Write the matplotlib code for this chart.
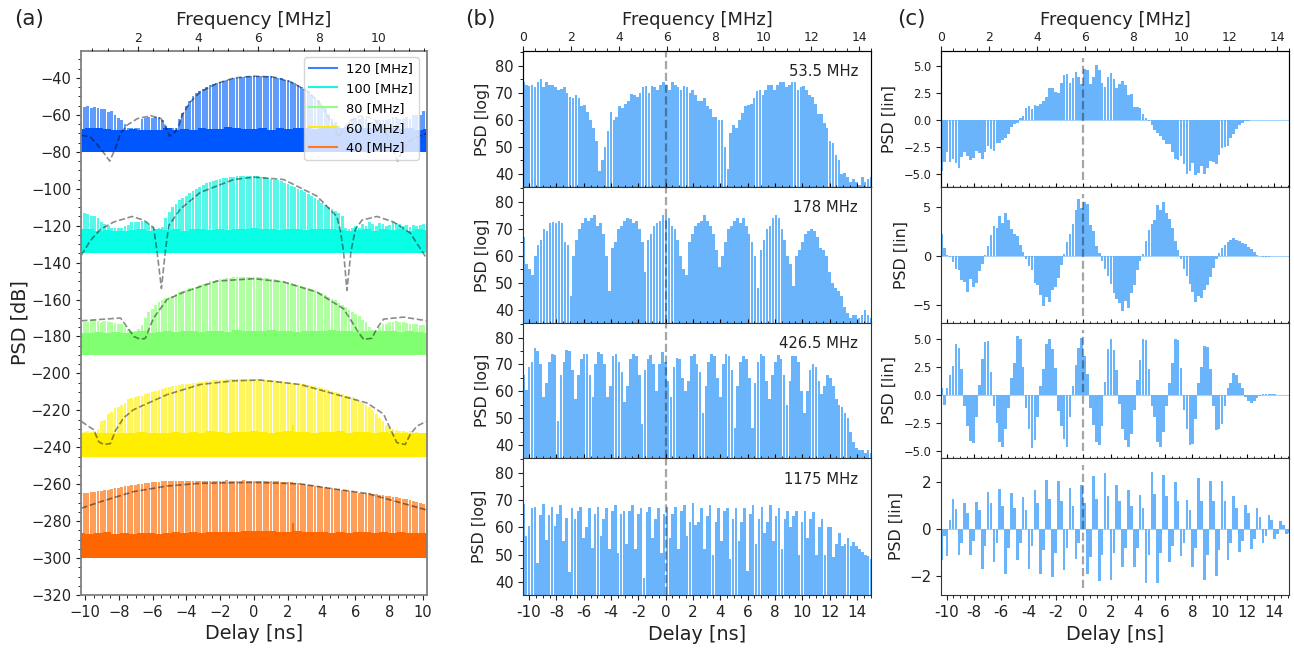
import matplotlib
matplotlib.use("Agg")
import matplotlib.pyplot as plt
from matplotlib.ticker import MultipleLocator
import numpy as np

# (a) envelope tops, one value per comb bar
top_120 = [-55,-55.5,-55,-56,-55.5,-56.5,-57,-57,-58.5,-58,-60,-61.5,-63,-65,-67,-67,-67,-67,-62,-61.5,-61,-61.5,-61,-61,-62.5,-66,-67,-67,-67,-62,-59,-55,-52.5,-50,-48,-47,-46,-45,-44,-43.5,-43,-42,-41.5,-41,-40.5,-40,-40,-39.5,-39.5,-39,-39,-39,-39,-39,-39,-39,-39,-39.5,-40,-40,-41,-41,-42,-43,-44,-45,-46,-47,-49,-50.5,-52,-54.5,-56.5,-59.5,-62,-64,-66,-67,-66.5,-64,-62,-61.5,-62,-61,-62,-64,-64,-63,-62.5,-63,-63,-62,-61,-61,-62,-62,-61,-62,-60,-60,-60,-58,-58]
top_100 = [-112,-113,-113.5,-115,-115,-116,-118,-119,-120,-121,-121,-121.5,-121,-120,-119.5,-118,-118,-118,-117.5,-118,-119,-120.5,-122,-121.5,-120.5,-116,-112.5,-110,-108,-106,-105,-104,-102.5,-101,-100,-99,-98,-97,-96.5,-96,-95,-94.5,-94,-94,-93.5,-93.5,-93,-93,-93,-93,-93,-93,-93,-93.5,-93.5,-94,-94.5,-95,-95,-96,-97,-97.5,-98.5,-99,-100,-100.5,-102,-103,-104,-105,-106,-107.5,-109,-110,-111,-112,-113,-115,-121,-122,-121,-120,-121,-119,-120,-118,-119,-120,-118.5,-119,-120,-119.5,-118,-118.5,-119,-120,-119.5,-120.5,-119.5,-120,-119.5,-119,-118.5]
top_80 = [-172,-172,-172,-171,-171,-171.5,-172,-171.5,-172,-172,-172.5,-173,-173,-174.5,-176,-177,-177,-176,-174,-170,-167,-165,-163,-161.5,-160,-159,-158.5,-158,-157,-156,-155.5,-155,-154,-153.5,-153,-152,-151.5,-151,-150,-150,-149.5,-149,-149,-148.5,-148.5,-148,-148,-148,-148,-148,-148,-148,-148,-148,-148.5,-148.5,-149,-149,-149.5,-150,-150,-150.5,-151,-151.5,-152,-152.5,-153,-154,-154.5,-155,-156,-156.5,-157.5,-158.5,-159.5,-160.5,-162,-163,-164,-165.5,-167,-168,-169,-171,-172,-175,-176.5,-177,-175,-173,-173,-172,-172,-171.5,-172,-172,-172.5,-173,-173,-173.5,-174,-174,-174]
top_60 = [-231,-231.5,-231,-231.5,-231,-230,-226,-225,-222,-221,-219,-218,-217,-216,-214,-213.5,-213,-212.5,-212,-211,-210.5,-210,-209.5,-209,-208.5,-208,-207.5,-207,-207,-206.5,-206,-205.5,-205.5,-205,-205,-204.5,-204.5,-204,-204,-203.5,-203.5,-203.5,-203.5,-203,-203,-203,-203,-203,-203,-203,-203,-203,-203,-203,-203.5,-203.5,-203.5,-203.5,-204,-204,-204.5,-204.5,-205,-205,-205.5,-205.5,-206,-206.5,-207,-207,-207.5,-208,-208.5,-209,-209.5,-210,-210.5,-211,-212,-212.5,-213,-214,-215,-216,-217,-218,-220,-222,-224,-226,-228,-229,-230,-230.5,-231,-231,-231.5,-231,-232,-231.5,-232,-232,-232]
top_40 = [-265,-264.5,-265,-264,-264,-263.5,-263.5,-263,-263,-262.5,-262,-262,-261.5,-261,-261,-260.5,-260.5,-260,-260,-259.5,-259.5,-259,-259,-259,-258.5,-258.5,-258.5,-258.5,-258,-258.5,-258,-258,-258.5,-258,-258,-258,-258,-258,-258.5,-258,-258,-258,-258,-257.5,-258,-258,-258,-258,-257.5,-258,-258,-258,-258,-258,-258.5,-258,-258.5,-258.5,-258.5,-259,-259,-259,-259,-259.5,-259.5,-260,-260,-260.5,-260.5,-261,-261,-261.5,-261.5,-262,-262,-262.5,-262.5,-263,-263,-263.5,-263.5,-264,-264.5,-264.5,-265,-265,-265.5,-265.5,-266,-266,-266.5,-266.5,-267,-267,-267.5,-268,-268,-268.5,-269,-269.5,-270,-270.5,-271]

# (a) noise floor
floor_120 = [-67.5,-67,-67,-67.5,-68,-68,-67.5,-68,-68,-68,-67,-68,-67.5,-68,-67,-67.5,-67.5,-66.5,-67,-67.5,-67.5,-67,-68,-67,-67.5,-67,-67,-67.5,-67,-66,-67,-68,-67.5,-67,-67,-67.5,-67,-67.5,-67,-68,-67.5]
floor_100 = [-122,-122,-123,-122.5,-123,-123,-122.5,-122,-123,-122,-122.5,-122,-123,-122,-122,-122.5,-122,-122.5,-122,-122,-121.5,-122,-122,-122.5,-122,-122,-122.5,-122,-122,-122,-122.5,-123,-122.5,-122,-123,-122,-122.5,-122,-123,-122,-122.5]
floor_80 = [-178,-178,-177.5,-178,-177.5,-178,-177.5,-177,-178,-177.5,-177,-177.5,-177,-177,-177.5,-177,-177,-177.5,-176.5,-177,-177,-177,-176.5,-177,-177,-177.5,-177,-177,-177,-176.5,-177,-177,-177.5,-177,-177,-177,-177,-177.5,-177,-177.5,-178]
floor_60 = [-232,-232.5,-232,-232.5,-232,-232,-232,-231.5,-232,-232,-232,-231.5,-232,-231.5,-232,-231,-231.5,-232,-231.5,-231.5,-231,-231.5,-232,-231.5,-231,-231.5,-231.5,-232,-231.5,-231.5,-231,-232,-231.5,-231.5,-232,-231.5,-232,-232,-232,-232,-232]
floor_40 = [-286.5,-287,-286.5,-286,-287,-286.5,-287,-286.5,-286.5,-287,-286.5,-286,-286.5,-286,-286.5,-286,-286,-286,-286,-285.5,-285.5,-285.5,-285.5,-286,-286,-285.5,-286,-286,-286,-286.5,-286,-286.5,-286,-286,-286.5,-286,-286.5,-286,-286.5,-286.5,-286.5]
spike_delay = 2.3
spike_60 = -228
spike_40 = -281

# (a) dashed model curves
model_120_x = [-10.22,-9.68,-9.29,-8.9,-8.54,-8.2,-7.9,-7.5,-6.9,-6.1,-5.5,-5.25,-5.0,-4.65,-4.45,-4.25,-3.77,-3.18,-2.2,-1.2,0,1.16,2.15,3.14,3.93,4.7,5.0,5.3,5.7,6.3,7.08,7.67,8.07,8.5,8.86,9.35,10.24]
model_120_y = [-71,-72,-76,-80.5,-85,-78,-70,-65.5,-62,-60.5,-62,-66,-71.5,-69,-66,-60,-53,-47.5,-43,-40,-39,-39.5,-42,-47,-54,-66,-72,-68,-63,-60.5,-62,-68,-75,-85,-78,-73,-70]
model_100_x = [-10.22,-9.68,-9.09,-8.3,-7.22,-6.53,-5.94,-5.74,-5.48,-5.25,-5.05,-4.36,-3.18,-1.2,0,1.76,3.73,4.9,5.1,5.3,5.5,5.74,6,6.39,7.28,8.26,9.25,10.24]
model_100_y = [-136,-128,-122,-118,-115,-117,-121,-134,-154,-134,-120,-111,-102,-95,-93.7,-95,-104,-115,-122,-134,-155,-134,-122,-117,-115,-118,-124,-138]
model_80_x = [-10.22,-7.9,-7.42,-7.12,-6.73,-6.43,-6.13,-5.94,-5.15,-4.16,-2.19,0,1.76,3.73,5.3,6,6.19,6.49,6.98,7.28,7.67,8.86,10.24]
model_80_y = [-171.5,-170,-176,-180,-181.5,-181,-174,-170,-160,-156,-150,-148.7,-150.5,-156,-165,-175,-178,-181.5,-181,-175.5,-170.6,-169.5,-171.5]
model_60_x = [-10.22,-9.49,-9.19,-8.9,-8.5,-8.2,-7.71,-7.12,-5.15,-3.18,-1.2,0.37,2.74,4.71,6.69,7.67,8.17,8.46,8.95,9.25,9.65,10.2]
model_60_y = [-226,-230.5,-237,-238.5,-238,-231,-224,-219.6,-211.5,-206,-204,-203.6,-206,-211,-216,-222,-232,-237.5,-238.5,-233,-228.5,-226]
model_40_x = [-10.22,-9.09,-7.12,-5.15,-3.18,0,2.74,4.71,6.69,8.66,10.24]
model_40_y = [-273,-269.5,-264,-261,-259.5,-259,-259.8,-262.5,-265,-270,-274]

legend_labels = ["120 [MHz]", "100 [MHz]", "80 [MHz]", "60 [MHz]", "40 [MHz]"]

# (b) log PSD
log_535 = [74,73,72.5,73,72,74,75,72,74,73,73,72,71,71.5,72,70,68.5,68,69,68,65,65.5,63,60,57,52,41,45,50,56,63,60,61,65,64.5,66,67,69.5,69,68.5,70,72,72.5,70,72.5,72,71,73,74,73,71,74,73,72,71,72.5,72,70,71,69,67,67,68,65,64,61,61,60,60,50,42,55,58,57,60,62.5,65,65.5,66,68,70.5,71,69,71,73,73,71,73,74,74,72,73,74,74,71,72,72.5,71,69,68.5,66,62,62,59,57,52,51.5,47,45,40,40.5,39,37,38,37,36,39,37,38,39]
log_178 = [67,57,55,53,60,64,66,70,69,72,72.5,72,73,72,65,64,45,60,66,70,72,74,73,74,75,71,72,68,60,47,63,65,70,71,73,74,73.5,72,73,70,65,54,66,68,71,72,73,75,74.5,74,71,70,66,60,55,53,65,68,71,72,73,75,73,71,68,62,56,60,65,70,71,73,74,72,74,71,68,65,60,48,62,66,70,71,74,75,74,70,66,60,57,49,60,62,65,68,69,70,69,67,63,62,60,54,50,48,47,45,41,39,37,38,38,37,38,40,38,37]
log_4265 = [66,60.5,69,71,76,75,70,58,63,71,74,73.5,49,66,71,75.5,75,68,57,66,72,74,74,66,58,70,74.5,74,70,58,62,73,74,71,67,56,62,72,74,73,66,48,68,72,73.5,70,60,70,74.5,71,64,58,69,72.5,72,65,60,64,73,74,70,67,52,62,71,74,73,65,58,70,74,73,68,46.5,62,71,73,72,65,46.5,63,71,74,73,64,57,66,71,73.5,72,66,55,64,73,73,71,60,52,60,68,70,69,64,59,62,66,65,62,57,55,54,52,50,45,41,39,38,38,37,38,37]
log_1175 = [68.5,57,60.5,67,67.5,47,64.5,68.5,55.5,64.5,67.5,60.5,65,68,55,63.5,43.5,67,63,66,67.5,56,60,67,52.5,65,67.5,57,63,67,52,66,68,50.5,65,66,54,66,68,52,65,67,41.5,65.5,67.5,56,63,67,50.5,65,67.5,56,65,67.5,52,66,68,57,62,69,61,62,67,52,64,68,50,62,67,55,66,67,48.5,63,67,55,62,67,44,65,68,54,63,67.5,58,62,68,55,64,67,52,63,66,60,64,66,50,62,66,56,63,65.5,50,60,63,50,60,60,49,54,58,53,54,56,53,54.5,53,52,51,50,49.5,48.5]

# (c) linear PSD
lin_535 = [-4.7,-3.9,-3.0,-3.9,-3.6,-4.0,-4.4,-3.4,-3.0,-3.3,-3.7,-3.5,-2.9,-3.1,-3.6,-3.0,-2.4,-2.7,-2.9,-2.1,-2.1,-1.9,-1.7,-1.3,-.7,-.4,-.25,.15,.4,1.1,1.3,1.0,1.4,1.3,1.5,1.7,2.1,2.9,2.9,2.6,2.5,3.4,4.1,4.2,3.4,3.9,4.4,4.0,3.3,4.7,4.6,3.3,4.0,5.1,4.6,3.4,3.0,4.0,4.3,3.8,2.9,3.3,3.6,3.2,2.3,2.4,1.2,1.2,1.1,.5,.15,-.1,-.5,-.9,-1.2,-1.5,-1.9,-2.2,-2.2,-3.0,-3.6,-3.7,-3.3,-4.1,-5.0,-4.7,-4.0,-5.1,-4.9,-4.3,-5.0,-4.4,-3.8,-3.9,-4.1,-3.2,-2.6,-2.5,-2.4,-1.7,-1.3,-.8,-.5,-.3,-.15,-.1,-.05,-.03,-.03,0,0,-.02,-.02,0,-.05,-.03,-.02,-.02,-.03,-.05]
lin_178 = [2.2,.8,.1,-.1,-.6,-1.3,-1.4,-2.5,-2.7,-3.7,-2.3,-3.2,-2.8,-1.5,-.8,.1,1.0,2.1,3.1,2.9,4.1,3.4,4.4,3.7,2.8,2.2,2.0,1.1,.4,-.3,-1.0,-1.4,-2.8,-3.0,-4.0,-5.1,-4.2,-4.7,-3.5,-3.2,-2.2,-.9,.2,1.4,2.2,3.3,4.7,5.8,4.9,5.5,5.3,3.2,2.5,1.0,.3,-.5,-1.3,-2.0,-2.9,-3.8,-4.4,-4.8,-5.6,-4.6,-5.3,-3.8,-3.0,-1.4,-.5,.2,1.5,2.7,3.3,3.7,5.2,4.7,5.5,4.4,3.8,2.9,1.5,.6,-.3,-1.3,-2.0,-2.9,-3.7,-4.7,-4.1,-4.3,-3.5,-3.0,-2.1,-1.2,-.3,.3,.8,1.1,1.4,1.6,1.8,1.6,1.5,1.3,1.2,.9,.7,.4,.15,-.05,-.1,-.08,-.1,-.05,-.05,-.03,-.05,-.02,-.03,-.02]
lin_4265 = [.6,-.9,.6,1.8,2.6,4.6,4.2,2.3,-1.0,-2.8,-4.1,-4.3,-2.0,.9,3.2,4.7,4.8,2.1,-1.0,-2.5,-4.2,-4.6,-3.0,-1.2,1.5,2.9,5.3,5.0,2.5,-1.2,-3.0,-4.7,-4.0,-2.0,.8,2.3,4.6,5.0,4.1,2.4,-1.4,-2.8,-3.9,-4.6,-2.0,.8,2.7,4.2,5.1,3.5,1.9,-1.2,-2.7,-4.2,-4.5,-2.8,1.2,4.1,5.0,4.0,2.2,-.8,-3.0,-4.0,-4.6,-3.5,-1.3,1.3,3.1,5.0,4.9,2.3,-1.0,-2.0,-4.2,-4.6,-3.3,-1.0,1.1,2.9,5.0,4.9,2.4,-1.3,-3.0,-4.5,-4.4,-2.1,1.1,2.5,4.4,4.3,2.3,-1.0,-3.1,-3.0,-2.6,-1.0,.6,1.1,2.0,1.8,1.1,.6,-.2,-.5,-.7,-.5,-.3,-.05,.05,.1,.1,.08,.05,.03,.02,.02,.02,.02]
lin_1175 = [-1.3,-.3,-1.15,.4,1.3,.85,-1.1,-.6,1.1,.7,-1.1,-.5,1.15,.8,-1.7,-.7,1.6,1.1,-1.4,-.6,1.7,1.0,-1.9,-.8,1.55,.9,-1.3,-.6,1.35,.8,-1.7,-.7,1.65,1.1,-1.9,-.9,2.1,1.3,-2.05,-1.0,2.05,1.2,-1.75,-.8,1.75,1.0,-1.25,-.6,1.9,1.1,-1.9,-1.2,2.25,1.3,-2.2,-1.1,2.4,1.4,-2.15,-1.0,1.9,1.2,-1.6,-.8,1.65,1.0,-1.6,-.8,1.45,.9,-2.3,-1.1,2.45,1.5,-2.3,-1.0,2.3,1.4,-1.4,-.7,2.0,1.2,-1.15,-.6,1.25,.8,-1.6,-.8,2.2,1.2,-2.15,-1.1,2.05,1.2,-2.0,-.9,2.05,1.2,-1.3,-.6,1.4,.9,-.95,-.5,1.05,.7,-.85,-.4,.9,.5,-.6,-.3,.6,.4,-.4,-.2,.35,.2,-.2,-.15]

mhz_labels = ["53.5 MHz", "178 MHz", "426.5 MHz", "1175 MHz"]

W, H = 1294, 648
BAR_BLUE = "#6ab4fb"


def axpx(l, t, r, b):
    return fig.add_axes([l / W, 1 - b / H, (r - l) / W, (b - t) / H])


fig = plt.figure(figsize=(W / 100, H / 100), dpi=100)
plt.rcParams["font.family"] = "DejaVu Sans"

# === panel (a) ===
ax = axpx(81, 51, 427, 595)
series = [
    (top_120, floor_120, -80, "#5e9bfb", "#0057ff", model_120_x, model_120_y, "#3d7fff"),
    (top_100, floor_100, -135, "#55f8e8", "#08ffe6", model_100_x, model_100_y, "#1cf5e0"),
    (top_80, floor_80, -190, "#b0ffa0", "#80ff70", model_80_x, model_80_y, "#90ff80"),
    (top_60, floor_60, -245, "#fff55c", "#ffee00", model_60_x, model_60_y, "#ffe81a"),
    (top_40, floor_40, -300, "#ff9e58", "#ff6600", model_40_x, model_40_y, "#ff7722"),
]
for (top, floor, base, light, solid, mx, my, line), lab in zip(series, legend_labels):
    x = np.linspace(-10.24, 10.24, len(top))
    ax.bar(x, np.array(top) - base, bottom=base, width=(x[1] - x[0]) * 0.82, color=light, lw=0)
    xf = np.linspace(-10.24, 10.24, len(floor))
    ax.bar(xf, np.array(floor) - base, bottom=base, width=xf[1] - xf[0], color=solid, lw=0)
    ax.plot(mx, my, "--", color="k", alpha=0.45, lw=1.2)
    ax.plot([], [], color=line, lw=1.5, label=lab)
ax.bar([spike_delay], [spike_60 + 245], bottom=-245, width=0.1, color="#ffee00", lw=0)
ax.bar([spike_delay], [spike_40 + 300], bottom=-300, width=0.1, color="#ff6600", lw=0)
ax.set_xlim(-10.24, 10.24)
ax.set_ylim(-320, -25.4)
ax.set_xticks(np.arange(-10, 11, 2))
ax.xaxis.set_minor_locator(MultipleLocator(0.5))
ax.yaxis.set_minor_locator(MultipleLocator(5))
ax.set_yticks(np.arange(-320, -39, 20))
ax.tick_params(axis="both", labelsize=10.5, colors="#222222", length=3.5)
ax.tick_params(which="minor", length=2)
ax.set_xlabel("Delay [ns]", fontsize=13.8, color="#222222")
ax.xaxis.set_label_coords(0.5, -0.053)
ax.set_ylabel("PSD [dB]", fontsize=13.8, color="#222222")
ax.yaxis.set_label_coords(-0.15, 0.5)
for s in ax.spines.values():
    s.set_color("#808080")
    s.set_linewidth(1.3)
ax.legend(loc="upper left", bbox_to_anchor=(304 / W, 1 - 57 / H), bbox_transform=fig.transFigure,
          borderaxespad=0, fontsize=9.4, handlelength=2.1, handletextpad=0.75, labelspacing=0.52)

top = ax.twiny()
top.set_xlim(0.12, 11.59)
top.set_xticks([2, 4, 6, 8, 10])
top.xaxis.set_minor_locator(MultipleLocator(0.5))
top.tick_params(axis="x", labelsize=8.9, colors="#222222", length=3.5, pad=0.5)
top.tick_params(axis="x", which="minor", length=2)
top.set_xlabel("Frequency [MHz]", fontsize=13.3, color="#222222")
top.xaxis.set_label_coords(0.5, 1.047)
for s in top.spines.values():
    s.set_visible(False)

# === panels (b) and (c) ===
rows = [(51, 187), (187, 323), (323, 458), (458, 595)]


def stacked(left, right, x0, x1, panels, ylims, yticks, ysizes, ylabs, ylabx, ytext, bar_rel, dash_span):
    for k, (vals, (t, b)) in enumerate(zip(panels, rows)):
        a = axpx(left, t, right, b)
        x = np.linspace(x0, x1, len(vals))
        step = x[1] - x[0]
        if bar_rel is None:
            a.bar(x, np.array(vals) - 35, bottom=35, width=step * 0.9, color=BAR_BLUE, lw=0)
        else:
            a.bar(x, vals, width=step * 0.9, color=BAR_BLUE, lw=0)
            a.axhline(0, color=BAR_BLUE, lw=0.8, alpha=0.6)
        a.axvline(0, ymin=dash_span[0], ymax=dash_span[1], color="k", alpha=0.35, ls="--", lw=1.6)
        a.set_xlim(x0, x1)
        a.set_ylim(*ylims[k])
        a.set_yticks(yticks[k])
        a.set_xticks(np.arange(-10, 15, 2))
        a.set_xticklabels([str(v) for v in np.arange(-10, 15, 2)])
        a.xaxis.set_minor_locator(MultipleLocator(0.5))
        a.tick_params(axis="y", labelsize=ysizes[k], colors="#222222", length=3.5)
        if ylims[k][0] > 0:
            a.yaxis.set_minor_locator(MultipleLocator(5))
            a.tick_params(axis="y", which="minor", length=2)
        if k < 3:
            a.tick_params(axis="x", which="both", direction="in", labelbottom=False, length=3)
            a.tick_params(axis="x", which="minor", length=1.8)
        else:
            a.tick_params(axis="x", labelsize=11, colors="#222222", length=3.5)
            a.tick_params(axis="x", which="minor", length=2)
            a.set_xlabel("Delay [ns]", fontsize=13.8, color="#222222")
            a.xaxis.set_label_coords(0.5, -0.22)
        a.set_ylabel(ylabs[k], fontsize=11.4, color="#222222")
        a.yaxis.set_label_coords(ylabx[k], 0.5)
        for s in a.spines.values():
            s.set_color("#333333")
        if ytext is not None:
            a.text(0.9626, 0.846, ytext[k], transform=a.transAxes, ha="right", va="center",
                   fontsize=10.6, color="#222222")
        if k == 0:
            tp = a.twiny()
            tp.set_xlim(0, 14.5)
            tp.set_xticks(np.arange(0, 15, 2))
            tp.xaxis.set_minor_locator(MultipleLocator(0.5))
            tp.tick_params(axis="x", labelsize=8.9, colors="#222222", length=3.5, pad=1.5)
            tp.tick_params(axis="x", which="minor", length=2)
            tp.set_xlabel("Frequency [MHz]", fontsize=12.9, color="#222222")
            tp.xaxis.set_label_coords(0.5, 1.19)


stacked(523.3, 871, -10.42, 15.03, [log_535, log_178, log_4265, log_1175],
        [(35.2, 85.4)] * 4, [[40, 50, 60, 70, 80]] * 4, [10.5] * 4, ["PSD [log]"] * 4,
        [-0.097, -0.097, -0.097, -0.105], mhz_labels, None, (0, 1))
stacked(941.3, 1289.3, -10.39, 15.09, [lin_535, lin_178, lin_4265, lin_1175],
        [(-6.2, 6.36), (-6.84, 7.04), (-5.62, 6.43), (-2.8, 3.03)],
        [[-5, -2.5, 0, 2.5, 5], [-5, 0, 5], [-5, -2.5, 0, 2.5, 5], [-2, 0, 2]],
        [8.3, 9.3, 8.3, 10.8], ["PSD [lin]"] * 4,
        [-0.127, -0.093, -0.127, -0.107], None, True, (0.05, 0.95))

fig.text(14 / W, 1 - 19 / H, "(a)", fontsize=15.5, va="center", color="#222222")
fig.text(465 / W, 1 - 19 / H, "(b)", fontsize=15.5, va="center", color="#222222")
fig.text(897 / W, 1 - 19 / H, "(c)", fontsize=15.5, va="center", color="#222222")

fig.savefig("out.png", dpi=100)
